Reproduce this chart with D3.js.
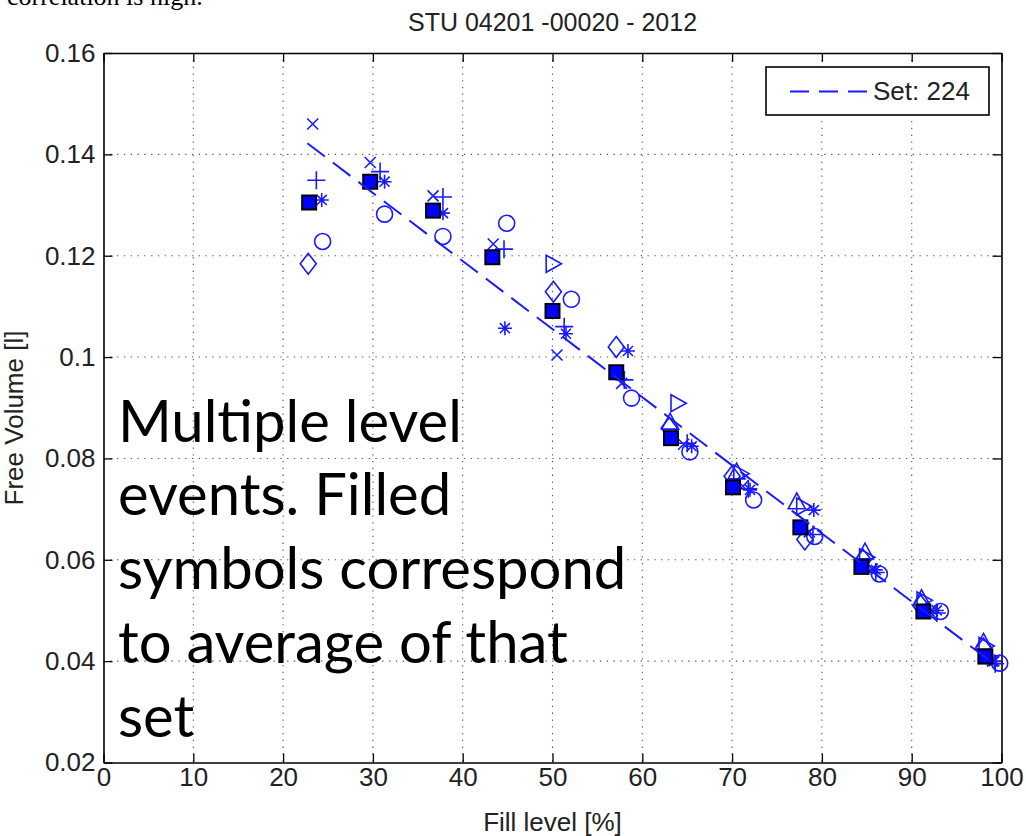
<!DOCTYPE html>
<html><head><meta charset="utf-8">
<script src="https://cdn.jsdelivr.net/npm/d3@7"></script>
<style>html,body{margin:0;padding:0;background:#fff;overflow:hidden}</style>
</head><body>
<svg id="c" width="1026" height="836"></svg>
<script>
// ---- data ----
const titleText = "STU 04201 -00020 - 2012";
const xLabel = "Fill level [%]";
const yLabel = "Free Volume [l]";
const xTicks = [0,10,20,30,40,50,60,70,80,90,100];
const yTicks = [0.02,0.04,0.06,0.08,0.10,0.12,0.14,0.16];
const yTickLabels = ["0.02","0.04","0.06","0.08","0.1","0.12","0.14","0.16"];
const legendLabel = "Set: 224";
const noteLines = ["Multiple level","events. Filled","symbols correspond","to average of that","set"];
const topText = "correlation is high.";

// individual measurements, one array per marker type
const crossX = [23.3,29.7,36.7,43.4,50.5,57.7,64.6,71.2,78.6,85.6,92.3,99.0];
const crossY = [0.1460,0.1384,0.1318,0.1223,0.1004,0.0948,0.0828,0.0745,0.0655,0.0582,0.0500,0.0400];
const plusX = [23.7,30.8,37.8,44.6,51.3,58.0,65.0,71.8,79.0,86.0,92.8,99.3];
const plusY = [0.1349,0.1366,0.1316,0.1213,0.1060,0.0955,0.0830,0.0740,0.0650,0.0575,0.0495,0.0395];
const starX = [24.3,31.3,37.8,44.7,51.5,58.4,65.5,72.0,79.1,86.0,92.8,99.2];
const starY = [0.1310,0.1346,0.1284,0.1057,0.1046,0.1012,0.0824,0.0738,0.0698,0.0580,0.0500,0.0400];
const circleX = [24.4,31.3,37.8,44.9,52.1,58.8,65.3,72.4,79.2,86.4,93.2,99.8];
const circleY = [0.1228,0.1282,0.1238,0.1264,0.1114,0.0919,0.0813,0.0718,0.0646,0.0572,0.0498,0.0396];
const diamondX = [22.8,50.1,57.1,63.0,70.0,78.1,84.6,91.0,98.0];
const diamondY = [0.1184,0.1129,0.1020,0.0860,0.0765,0.0640,0.0600,0.0510,0.0425];
const triRightX = [50.1,64.0,71.0,78.0,85.0,91.4,98.3];
const triRightY = [0.1184,0.0909,0.0770,0.0705,0.0605,0.0520,0.0430];
const triUpX = [63.1,70.5,77.2,84.8,91.1,98.0];
const triUpY = [0.0872,0.0774,0.0715,0.0616,0.0524,0.0438];
// set averages (filled squares)
const avgX = [22.9,29.7,36.7,43.3,50.0,57.1,63.2,70.1,77.6,84.4,91.3,98.2];
const avgY = [0.1305,0.1346,0.1289,0.1197,0.1091,0.0970,0.0840,0.0743,0.0664,0.0586,0.0498,0.0409];
// fitted line
const fitX = [22.7,99.5];
const fitY = [0.1422,0.0390];

// ---- layout ----
const L = 103.5, R = 1001.5, T = 53, B = 762.5;
const blue = "#1a1aff";
const axFont = "'Liberation Sans', Arial, sans-serif";
const svg = d3.select("#c");
const x = d3.scaleLinear().domain([0,100]).range([L,R]);
const y = d3.scaleLinear().domain([0.02,0.16]).range([B,T]);

// top clipped text (cut by the page edge as in the source image)
svg.append("text").attr("x",7).attr("y",5).attr("font-family","'Liberation Serif','Times New Roman',serif")
  .attr("font-size",26).attr("fill","#000").text(topText);

// grid
const grid = svg.append("g").attr("stroke","#555").attr("stroke-width",1.1).attr("stroke-dasharray","1.3,5.5");
grid.selectAll(".gx").data(xTicks.slice(1,-1)).join("line")
  .attr("x1",d=>x(d)).attr("x2",d=>x(d)).attr("y1",T).attr("y2",B);
grid.selectAll(".gy").data(yTicks.slice(1,-1)).join("line")
  .attr("y1",d=>y(d)).attr("y2",d=>y(d)).attr("x1",L).attr("x2",R);

// axes (MATLAB style: inward ticks on all four sides)
const tl = 9;
const axB = svg.append("g").attr("transform",`translate(0,${B})`)
  .call(d3.axisBottom(x).tickValues(xTicks).tickSizeInner(-tl).tickSizeOuter(0).tickPadding(5));
const axT = svg.append("g").attr("transform",`translate(0,${T})`)
  .call(d3.axisTop(x).tickValues(xTicks).tickSizeInner(-tl).tickSizeOuter(0).tickFormat(""));
const axL = svg.append("g").attr("transform",`translate(${L},0)`)
  .call(d3.axisLeft(y).tickValues(yTicks).tickSizeInner(-tl).tickSizeOuter(0).tickPadding(8)
    .tickFormat((d,i)=>yTickLabels[i]));
const axR = svg.append("g").attr("transform",`translate(${R},0)`)
  .call(d3.axisRight(y).tickValues(yTicks).tickSizeInner(-tl).tickSizeOuter(0).tickFormat(""));
[axB,axT,axL,axR].forEach(g=>{
  g.selectAll("path.domain").attr("stroke","#000").attr("stroke-width",1.6);
  g.selectAll(".tick line").attr("stroke","#000").attr("stroke-width",1.3);
  g.selectAll("text").attr("font-family",axFont).attr("font-size",26).attr("fill","#222");
});
axB.selectAll("text").attr("dy","0.71em");

// title and axis labels
svg.append("text").attr("x",(L+R)/2).attr("y",31).attr("text-anchor","middle")
  .attr("font-family",axFont).attr("font-size",25).attr("fill","#222").text(titleText);
svg.append("text").attr("x",(L+R)/2).attr("y",831).attr("text-anchor","middle")
  .attr("font-family",axFont).attr("font-size",26).attr("fill","#222").text(xLabel);
svg.append("text").attr("transform","translate(23,418) rotate(-90)").attr("text-anchor","middle")
  .attr("font-family",axFont).attr("font-size",26).attr("fill","#222").text(yLabel);

// marker shapes
const shapes = {
  cross: s=>`M${-s},${-s}L${s},${s}M${-s},${s}L${s},${-s}`,
  plus: s=>`M${-s},0H${s}M0,${-s}V${s}`,
  star: s=>{const k=s*0.72;return `M${-s},0H${s}M0,${-s}V${s}M${-k},${-k}L${k},${k}M${-k},${k}L${k},${-k}`;},
  circle: s=>`M${s},0A${s},${s} 0 1,1 ${-s},0A${s},${s} 0 1,1 ${s},0Z`,
  diamond: s=>`M0,${-s*1.3}L${s},0L0,${s*1.3}L${-s},0Z`,
  triRight: s=>`M${-s*0.85},${-s}L${s*0.95},0L${-s*0.85},${s}Z`,
  triUp: s=>`M0,${-s}L${s},${s*0.85}L${-s},${s*0.85}Z`
};
const series = [
  {xs:crossX, ys:crossY, shape:"cross", size:5.5},
  {xs:plusX, ys:plusY, shape:"plus", size:9},
  {xs:starX, ys:starY, shape:"star", size:7},
  {xs:circleX, ys:circleY, shape:"circle", size:8},
  {xs:diamondX, ys:diamondY, shape:"diamond", size:8},
  {xs:triRightX, ys:triRightY, shape:"triRight", size:8.5},
  {xs:triUpX, ys:triUpY, shape:"triUp", size:8.5}
];
const pts = svg.append("g").attr("fill","none").attr("stroke",blue).attr("stroke-width",1.6);
series.forEach(sr=>{
  pts.selectAll(null).data(sr.xs.map((v,i)=>[v,sr.ys[i]])).join("path")
    .attr("transform",d=>`translate(${x(d[0])},${y(d[1])})`)
    .attr("d",shapes[sr.shape](sr.size));
});

// averages
svg.append("g").selectAll("rect").data(avgX.map((v,i)=>[v,avgY[i]])).join("rect")
  .attr("x",d=>x(d[0])-7).attr("y",d=>y(d[1])-7).attr("width",14).attr("height",14)
  .attr("fill","#0000ff").attr("stroke","#000").attr("stroke-width",2);

// fit line
svg.append("path").datum(fitX.map((v,i)=>[v,fitY[i]]))
  .attr("d",d3.line().x(d=>x(d[0])).y(d=>y(d[1])))
  .attr("fill","none").attr("stroke",blue).attr("stroke-width",2).attr("stroke-dasharray","22,10");

// legend
const lg = svg.append("g");
lg.append("rect").attr("x",766).attr("y",67).attr("width",223).attr("height",48)
  .attr("fill","#fff").attr("stroke","#000").attr("stroke-width",1.6);
lg.append("line").attr("x1",790).attr("x2",867).attr("y1",91.5).attr("y2",91.5)
  .attr("stroke",blue).attr("stroke-width",2).attr("stroke-dasharray","19,10");
lg.append("text").attr("x",873).attr("y",100).attr("font-family",axFont).attr("font-size",26)
  .attr("fill","#222").text(legendLabel);

// annotation
const noteBase = [442,515,589,663,737];
svg.append("g").selectAll("text").data(noteLines).join("text")
  .attr("x",118).attr("y",(d,i)=>noteBase[i])
  .attr("font-family","Lato, 'Open Sans', sans-serif").attr("font-size",58).attr("fill","#000")
  .text(d=>d);
</script>
</body></html>
